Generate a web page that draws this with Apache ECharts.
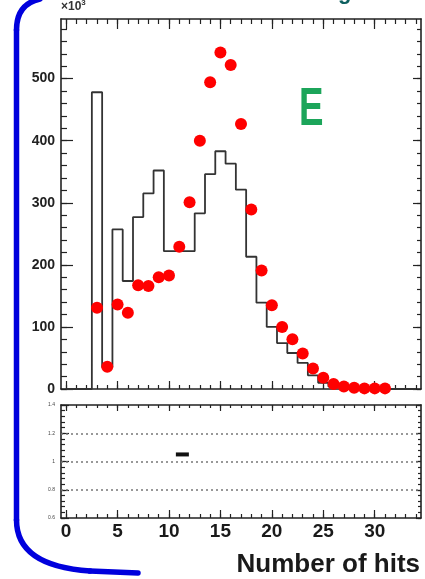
<!DOCTYPE html>
<html><head><meta charset="utf-8">
<script src="https://cdn.jsdelivr.net/npm/echarts@6/dist/echarts.min.js"></script>
<style>html,body{margin:0;padding:0;background:#fff}#c{width:425px;height:579px}</style>
</head><body><div id="c"></div>
<script>
// ---- data ----
const binCenters = [0,1,2,3,4,5,6,7,8,9,10,11,12,13,14,15,16,17,18,19,20,21,22,23,24,25,26,27,28,29,30,31,32,33,34];
const histValues = [0,0,0,478,35,257,174,277,315,352,222,222,222,283,346,383,363,321,213,139,100,74,58,42,22,10,4,1,0,0,0,0,0,0,0];
const dataBins   = [3,4,5,6,7,8,9,10,11,12,13,14,15,16,17,18,19,20,21,22,23,24,25,26,27,28,29,30,31];
const dataValues = [131,36,136,123,167,166,180,183,229,301,400,494,542,522,427,289,191,135,100,80,57,33,18,8,4,2,1,1,1];
const ratioBins   = [11.3];
const ratioValues = [1.05];
const ratioRefLines = [0.8, 1.0, 1.2];
// ---- ticks ----
const xMajorTicks = [0,5,10,15,20,25,30];
const xMinorTicks = [0,1,2,3,4,5,6,7,8,9,10,11,12,13,14,15,16,17,18,19,20,21,22,23,24,25,26,27,28,29,30,31,32,33,34];
const yMajorTicks = [0,100,200,300,400,500];
const yMinorTicks = [0,20,40,60,80,100,120,140,160,180,200,220,240,260,280,300,320,340,360,380,400,420,440,460,480,500,520,540,560,580];
const rMajorTicks = [0.6,0.8,1.0,1.2,1.4];
const rMinorTicks = [0.6,0.64,0.68,0.72,0.76,0.8,0.84,0.88,0.92,0.96,1.0,1.04,1.08,1.12,1.16,1.2,1.24,1.28,1.32,1.36,1.4];
const rTickLabels = ['0.6','0.8','1','1.2','1.4'];

const X_MIN = -0.5, X_MAX = 34.5, Y_MAX = 596, R_MIN = 0.6, R_MAX = 1.4;
const FONT = 'Liberation Sans';
const AX = '#222';

function axis(grid, pos, min, max, ticks, len, showLine, label) {
  return {
    type: 'value', gridIndex: grid, position: pos, min: min, max: max,
    axisLine: {show: showLine, onZero: false, lineStyle: {color: AX, width: 1.6}},
    axisTick: {show: true, inside: true, length: len, customValues: ticks, lineStyle: {color: AX, width: 1.2}},
    axisLabel: label ? Object.assign({show: true, customValues: ticks, fontFamily: FONT, color: AX}, label) : {show: false},
    splitLine: {show: false}, minorTick: {show: false}
  };
}

const xAxes = [
  axis(0,'bottom',X_MIN,X_MAX,xMajorTicks,8,true,null),
  axis(0,'bottom',X_MIN,X_MAX,xMinorTicks,4,false,null),
  axis(0,'top',X_MIN,X_MAX,xMajorTicks,10,true,null),
  axis(0,'top',X_MIN,X_MAX,xMinorTicks,5,false,null),
  axis(1,'bottom',X_MIN,X_MAX,xMajorTicks,8,true,{fontSize:19,fontWeight:'bold',margin:4,color:'#1a1a1a'}),
  axis(1,'bottom',X_MIN,X_MAX,xMinorTicks,4,false,null),
  axis(1,'top',X_MIN,X_MAX,xMajorTicks,6,true,null),
  axis(1,'top',X_MIN,X_MAX,xMinorTicks,3,false,null)
];
const yAxes = [
  axis(0,'left',0,Y_MAX,yMajorTicks,12,true,{fontSize:14,fontWeight:'bold',margin:6}),
  axis(0,'left',0,Y_MAX,yMinorTicks,6,false,null),
  axis(0,'right',0,Y_MAX,yMajorTicks,8,true,null),
  axis(0,'right',0,Y_MAX,yMinorTicks,4,false,null),
  axis(1,'left',R_MIN,R_MAX,rMajorTicks,8,true,{fontSize:5,margin:6,color:'#444',formatter:function(v){return rTickLabels[rMajorTicks.findIndex(function(t){return Math.abs(t-v)<1e-6;})];}}),
  axis(1,'left',R_MIN,R_MAX,rMinorTicks,4,false,null),
  axis(1,'right',R_MIN,R_MAX,rMajorTicks,5,true,null),
  axis(1,'right',R_MIN,R_MAX,rMinorTicks,3,false,null)
];

const BLUE = {stroke: '#0000dd', lineWidth: 5.5, fill: null, lineCap: 'round'};

const chart = echarts.init(document.getElementById('c'), null, {renderer: 'canvas'});
chart.setOption({
  animation: false,
  backgroundColor: '#fff',
  grid: [
    {left: 61, right: 4, top: 19, height: 370, containLabel: false, outerBoundsMode: 'none'},
    {left: 61, right: 4, top: 405, height: 113, containLabel: false, outerBoundsMode: 'none'}
  ],
  xAxis: xAxes,
  yAxis: yAxes,
  series: [
    {
      type: 'line', step: 'middle', xAxisIndex: 0, yAxisIndex: 0, symbol: 'none', z: 2,
      lineStyle: {color: '#333', width: 1.8},
      data: binCenters.map(function(b, i){ return [b, histValues[i]]; })
    },
    {
      type: 'scatter', xAxisIndex: 0, yAxisIndex: 0, symbol: 'circle', symbolSize: 12, z: 3, clip: false,
      itemStyle: {color: '#ff0000', opacity: 1},
      data: dataBins.map(function(b, i){ return [b, dataValues[i]]; })
    },
    {
      type: 'scatter', xAxisIndex: 4, yAxisIndex: 4, symbol: 'rect', symbolSize: [13, 4], z: 3,
      itemStyle: {color: '#111', opacity: 1},
      data: ratioBins.map(function(b, i){ return [b, ratioValues[i]]; }),
      markLine: {
        silent: true, symbol: ['none','none'], label: {show: false},
        lineStyle: {type: [2, 3], color: '#777', width: 1.5},
        data: ratioRefLines.map(function(v){ return {yAxis: v}; })
      }
    }
  ],
  graphic: [
    {type: 'bezierCurve', shape: {x1: 40, y1: -1, cpx1: 16.5, cpy1: 4, x2: 16.5, y2: 30}, style: BLUE},
    {type: 'line', shape: {x1: 16.5, y1: 30, x2: 16.5, y2: 520}, style: BLUE},
    {type: 'bezierCurve', shape: {x1: 16.5, y1: 520, cpx1: 16.5, cpy1: 566, x2: 90, y2: 571}, style: BLUE},
    {type: 'line', shape: {x1: 90, y1: 571, x2: 138, y2: 573}, style: BLUE},
    {type: 'text', x: 61, y: -1, style: {text: '{a|\u00d710}{b|3}', rich: {a: {fontSize: 12, fontWeight: 'bold', fontFamily: FONT, fill: '#333'}, b: {fontSize: 8, fontWeight: 'bold', fontFamily: FONT, fill: '#333', verticalAlign: 'top', padding: [0,0,8,0]}}, verticalAlign: 'top'}},
    {type: 'text', x: 299, y: 83, scaleX: 0.68, style: {text: 'E', fontSize: 54, fontWeight: 'bold', fontFamily: FONT, fill: '#1ca55a', verticalAlign: 'top'}},
    {type: 'text', x: 338, y: 4, style: {text: 'g', fontSize: 22, fontWeight: 'bold', fontFamily: FONT, fill: '#0d5f5f', verticalAlign: 'bottom'}},
    {type: 'text', x: 420, y: 552, style: {text: 'Number of hits', fontSize: 26, fontWeight: 'bold', fontFamily: FONT, fill: '#1a1a1a', align: 'right', verticalAlign: 'top'}}
  ]
});
</script>
</body></html>
